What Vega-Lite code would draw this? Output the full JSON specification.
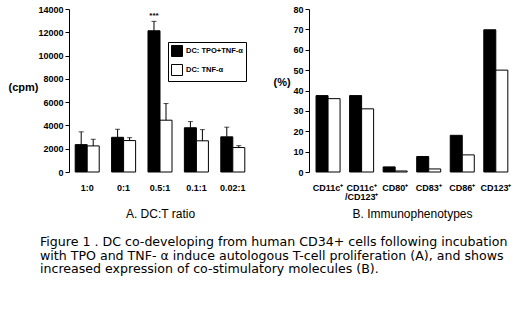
{
  "$schema": "https://vega.github.io/schema/vega-lite/v6.json",
  "background": "white",
  "padding": {"left": 8, "top": 5, "right": 0, "bottom": 0},
  "spacing": 22,
  "config": {
    "view": {"stroke": null},
    "axis": {
      "domainColor": "black", "tickColor": "black", "labelColor": "black", "titleColor": "black",
      "labelFont": "Liberation Sans", "labelFontWeight": "bold", "labelFontSize": 9,
      "titleFont": "Liberation Sans", "grid": false, "labelOverlap": false
    },
    "legend": {
      "strokeColor": "black", "fillColor": "white", "padding": 3, "rowPadding": 3,
      "symbolType": "square", "symbolSize": 121, "symbolStrokeColor": "black", "symbolStrokeWidth": 1,
      "labelFont": "Liberation Sans", "labelFontWeight": "bold", "labelFontSize": 7.5, "labelColor": "black", "labelOffset": 3
    }
  },
  "title": {
    "text": [
      "Figure 1 .  DC co-developing from human CD34+ cells following incubation",
      "with TPO and TNF- α  induce autologous T-cell proliferation (A), and shows",
      "increased expression of co-stimulatory molecules (B)."
    ],
    "orient": "bottom", "anchor": "start", "dx": 32, "offset": 17,
    "font": "DejaVu Sans", "fontSize": 12.6, "fontWeight": "normal", "lineHeight": 13.5, "color": "black"
  },
  "resolve": {"scale": {"color": "independent"}, "legend": {"color": "independent"}},
  "hconcat": [
    {
      "width": 182, "height": 163,
      "data": {"values": [
        {"ratio": "1:0", "group": "DC: TPO+TNF-α", "value": 2350, "err": 3450, "sig": ""},
        {"ratio": "1:0", "group": "DC: TNF-α", "value": 2240, "err": 2810, "sig": ""},
        {"ratio": "0:1", "group": "DC: TPO+TNF-α", "value": 2980, "err": 3670, "sig": ""},
        {"ratio": "0:1", "group": "DC: TNF-α", "value": 2700, "err": 2950, "sig": ""},
        {"ratio": "0.5:1", "group": "DC: TPO+TNF-α", "value": 12130, "err": 12940, "sig": "***"},
        {"ratio": "0.5:1", "group": "DC: TNF-α", "value": 4450, "err": 5880, "sig": ""},
        {"ratio": "0.1:1", "group": "DC: TPO+TNF-α", "value": 3800, "err": 4330, "sig": ""},
        {"ratio": "0.1:1", "group": "DC: TNF-α", "value": 2680, "err": 3640, "sig": ""},
        {"ratio": "0.02:1", "group": "DC: TPO+TNF-α", "value": 3020, "err": 3850, "sig": ""},
        {"ratio": "0.02:1", "group": "DC: TNF-α", "value": 2100, "err": 2260, "sig": ""}
      ]},
      "encoding": {
        "x": {"field": "ratio", "type": "nominal", "sort": ["1:0", "0:1", "0.5:1", "0.1:1", "0.02:1"],
          "scale": {"paddingInner": 0.34, "paddingOuter": 0.17},
          "axis": {"title": "A. DC:T ratio", "labelAngle": 0, "domain": false, "ticks": false, "tickSize": 0, "labelPadding": 11,
            "titleY": 41, "titleBaseline": "middle", "titleFontSize": 12, "titleFontWeight": "normal"}},
        "xOffset": {"field": "group", "type": "nominal", "sort": ["DC: TPO+TNF-α", "DC: TNF-α"], "scale": {"paddingInner": 0, "paddingOuter": 0}}
      },
      "layer": [
        {"mark": {"type": "bar", "stroke": "black", "strokeWidth": 1},
         "encoding": {
           "y": {"field": "value", "type": "quantitative", "scale": {"domain": [0, 14000], "nice": false},
             "axis": {"title": "(cpm)", "values": [0, 2000, 4000, 6000, 8000, 10000, 12000, 14000], "format": "d",
               "tickSize": 4, "labelPadding": 2, "titleAngle": 0, "titleX": -61, "titleY": 78, "titleAlign": "left",
               "titleBaseline": "middle", "titleFontSize": 11, "titleFontWeight": "bold"}},
           "fill": {"field": "group", "type": "nominal", "sort": ["DC: TPO+TNF-α", "DC: TNF-α"],
             "scale": {"domain": ["DC: TPO+TNF-α", "DC: TNF-α"], "range": ["black", "white"]},
             "legend": {"title": null, "orient": "none", "legendX": 99, "legendY": 33}}
         }},
        {"mark": {"type": "rule", "color": "black", "strokeWidth": 1},
         "encoding": {"y": {"field": "value", "type": "quantitative", "scale": {"domain": [0, 14000], "nice": false},
             "axis": {"title": "(cpm)", "values": [0, 2000, 4000, 6000, 8000, 10000, 12000, 14000], "format": "d",
               "tickSize": 4, "labelPadding": 2, "titleAngle": 0, "titleX": -61, "titleY": 78, "titleAlign": "left",
               "titleBaseline": "middle", "titleFontSize": 11, "titleFontWeight": "bold"}}, "y2": {"field": "err"}}},
        {"mark": {"type": "tick", "color": "black", "thickness": 1, "size": 5},
         "encoding": {"y": {"field": "err", "type": "quantitative", "scale": {"domain": [0, 14000], "nice": false},
             "axis": {"title": "(cpm)", "values": [0, 2000, 4000, 6000, 8000, 10000, 12000, 14000], "format": "d",
               "tickSize": 4, "labelPadding": 2, "titleAngle": 0, "titleX": -61, "titleY": 78, "titleAlign": "left",
               "titleBaseline": "middle", "titleFontSize": 11, "titleFontWeight": "bold"}}}},
        {"mark": {"type": "text", "baseline": "bottom", "dy": -1, "font": "Liberation Sans", "fontWeight": "bold", "fontSize": 8, "color": "black"},
         "encoding": {"y": {"field": "err", "type": "quantitative", "scale": {"domain": [0, 14000], "nice": false},
             "axis": {"title": "(cpm)", "values": [0, 2000, 4000, 6000, 8000, 10000, 12000, 14000], "format": "d",
               "tickSize": 4, "labelPadding": 2, "titleAngle": 0, "titleX": -61, "titleY": 78, "titleAlign": "left",
               "titleBaseline": "middle", "titleFontSize": 11, "titleFontWeight": "bold"}}, "text": {"field": "sig"}}}
      ]
    },
    {
      "width": 206, "height": 163,
      "data": {"values": [
        {"marker": "CD11c+", "group": "DC: TPO+TNF-α", "value": 37.5},
        {"marker": "CD11c+", "group": "DC: TNF-α", "value": 36},
        {"marker": "CD11c+/CD123+", "group": "DC: TPO+TNF-α", "value": 37.5},
        {"marker": "CD11c+/CD123+", "group": "DC: TNF-α", "value": 31},
        {"marker": "CD80+", "group": "DC: TPO+TNF-α", "value": 2.5},
        {"marker": "CD80+", "group": "DC: TNF-α", "value": 0.5},
        {"marker": "CD83+", "group": "DC: TPO+TNF-α", "value": 7.6},
        {"marker": "CD83+", "group": "DC: TNF-α", "value": 1.5},
        {"marker": "CD86+", "group": "DC: TPO+TNF-α", "value": 18},
        {"marker": "CD86+", "group": "DC: TNF-α", "value": 8.4},
        {"marker": "CD123+", "group": "DC: TPO+TNF-α", "value": 69.8},
        {"marker": "CD123+", "group": "DC: TNF-α", "value": 50}
      ]},
      "mark": {"type": "bar", "stroke": "black", "strokeWidth": 1},
      "encoding": {
        "x": {"field": "marker", "type": "nominal", "sort": ["CD11c+", "CD11c+/CD123+", "CD80+", "CD83+", "CD86+", "CD123+"],
          "scale": {"paddingInner": 0.28, "paddingOuter": 0.21},
          "axis": {"title": "B. Immunophenotypes", "labelAngle": 0, "domain": false, "ticks": false, "tickSize": 0, "labelPadding": 11,
            "labelExpr": "datum.label == 'CD11c+/CD123+' ? ['CD11c⁺', '/CD123⁺'] : replace(datum.label, '+', '⁺')",
            "labelLineHeight": 9,
            "titleY": 41, "titleBaseline": "middle", "titleFontSize": 12, "titleFontWeight": "normal"}},
        "xOffset": {"field": "group", "type": "nominal", "sort": ["DC: TPO+TNF-α", "DC: TNF-α"], "scale": {"paddingInner": 0, "paddingOuter": 0}},
        "y": {"field": "value", "type": "quantitative", "scale": {"domain": [0, 80], "nice": false},
          "axis": {"title": "(%)", "values": [0, 10, 20, 30, 40, 50, 60, 70, 80],
            "tickSize": 4, "labelPadding": 2, "titleAngle": 0, "titleX": -36, "titleY": 73, "titleAlign": "left",
            "titleBaseline": "middle", "titleFontSize": 11, "titleFontWeight": "bold"}},
        "fill": {"field": "group", "type": "nominal", "sort": ["DC: TPO+TNF-α", "DC: TNF-α"],
          "scale": {"domain": ["DC: TPO+TNF-α", "DC: TNF-α"], "range": ["black", "white"]},
          "legend": {"title": null, "orient": "none", "legendX": 53, "legendY": 32}}
      }
    }
  ]
}
